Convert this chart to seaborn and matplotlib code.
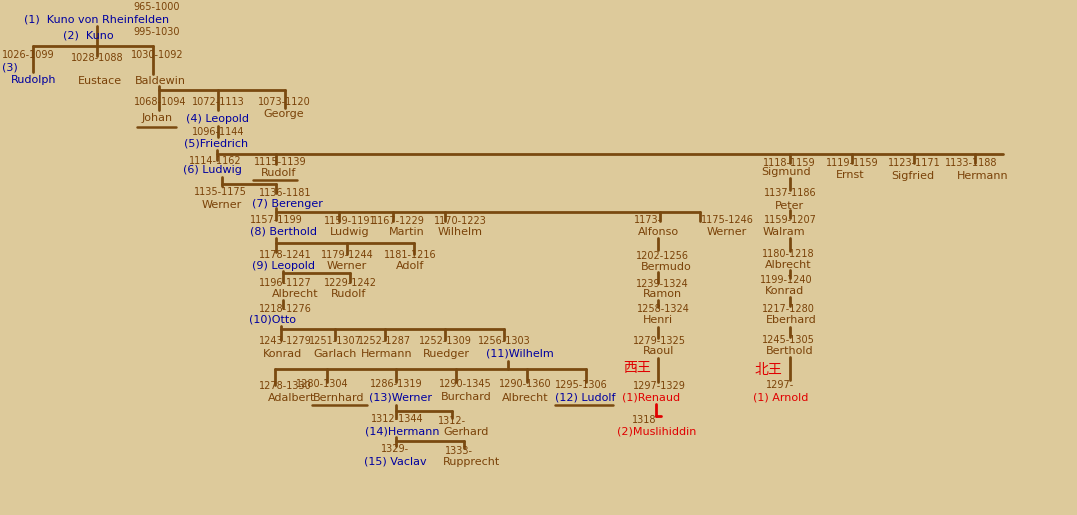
import matplotlib
matplotlib.use("Agg")
import matplotlib.pyplot as plt
import pandas as pd
import seaborn as sns

# people: name label, life years, colour role
names = ["(1)  Kuno von Rheinfelden", "(2)  Kuno", "Rudolph", "Eustace", "Baldewin",
         "Johan", "(4) Leopold", "George", "(5)Friedrich",
         "(6) Ludwig", "Rudolf", "Sigmund", "Ernst", "Sigfried", "Hermann",
         "Werner", "(7) Berenger",
         "(8) Berthold", "Ludwig", "Martin", "Wilhelm", "Alfonso", "Werner",
         "(9) Leopold", "Werner", "Adolf", "Albrecht", "Rudolf", "(10)Otto",
         "Konrad", "Garlach", "Hermann", "Ruedger", "(11)Wilhelm",
         "Adalbert", "Bernhard", "(13)Werner", "Burchard", "Albrecht", "(12) Ludolf",
         "(14)Hermann", "Gerhard", "(15) Vaclav", "Rupprecht",
         "Bermudo", "Ramon", "Henri", "Raoul", "(1)Renaud", "(2)Muslihiddin",
         "Peter", "Walram", "Albrecht", "Konrad", "Eberhard", "Berthold", "(1) Arnold"]
years = ["965-1000", "995-1030", "1026-1099", "1028-1088", "1030-1092",
         "1068-1094", "1072-1113", "1073-1120", "1096-1144",
         "1114-1162", "1115-1139", "1118-1159", "1119-1159", "1123-1171", "1133-1188",
         "1135-1175", "1136-1181",
         "1157-1199", "1159-1191", "1167-1229", "1170-1223", "1173-", "1175-1246",
         "1178-1241", "1179-1244", "1181-1216", "1196-1127", "1229-1242", "1218-1276",
         "1243-1279", "1251-1307", "1252-1287", "1252-1309", "1256-1303",
         "1278-1330", "1280-1304", "1286-1319", "1290-1345", "1290-1360", "1295-1306",
         "1312-1344", "1312-", "1329-", "1333-",
         "1202-1256", "1239-1324", "1258-1324", "1279-1325", "1297-1329", "1318",
         "1137-1186", "1159-1207", "1180-1218", "1199-1240", "1217-1280", "1245-1305", "1297-"]
roles = ["ruler", "ruler", "ruler", "kin", "kin",
         "kin", "ruler", "kin", "ruler",
         "ruler", "kin", "kin", "kin", "kin", "kin",
         "kin", "ruler",
         "ruler", "kin", "kin", "kin", "kin", "kin",
         "ruler", "kin", "kin", "kin", "kin", "ruler",
         "kin", "kin", "kin", "kin", "ruler",
         "kin", "kin", "ruler", "kin", "kin", "ruler",
         "ruler", "kin", "ruler", "kin",
         "kin", "kin", "kin", "kin", "west", "west",
         "kin", "kin", "kin", "kin", "kin", "kin", "west"]
branch_labels = ["西王", "北王"]

# layout in pixel space: (year x, year y, name x, name y)
layout = [(157, 7, 97, 19), (157, 32, 88, 35), (28, 55, 34, 80), (97, 58, 100, 81), (157, 55, 160, 81),
          (160, 102, 157, 118), (218, 102, 218, 119), (284, 102, 284, 114), (218, 132, 216, 144),
          (215, 161, 212, 170), (280, 162, 279, 173), (789, 163, 786, 172), (852, 163, 850, 175),
          (914, 163, 913, 176), (971, 163, 983, 176),
          (220, 192, 222, 205), (285, 193, 287, 204),
          (276, 220, 284, 231), (350, 221, 350, 232), (398, 221, 407, 232), (460, 221, 460, 232),
          (648, 220, 658, 232), (727, 220, 727, 232),
          (285, 255, 284, 266), (347, 255, 347, 266), (410, 255, 410, 266), (285, 283, 295, 294),
          (350, 283, 349, 294), (285, 309, 273, 320),
          (285, 341, 283, 354), (335, 341, 335, 354), (385, 341, 387, 354), (445, 341, 446, 354),
          (504, 341, 520, 354),
          (285, 386, 292, 398), (322, 384, 339, 398), (396, 384, 400, 398), (465, 384, 466, 397),
          (525, 384, 525, 398), (581, 385, 585, 398),
          (397, 419, 402, 431), (452, 421, 466, 432), (395, 449, 395, 462), (459, 451, 472, 462),
          (662, 256, 666, 267), (662, 284, 662, 294), (663, 309, 658, 320), (659, 341, 659, 351),
          (659, 386, 651, 398), (644, 420, 657, 431),
          (790, 193, 789, 206), (790, 220, 784, 232), (788, 254, 788, 265), (786, 280, 784, 291),
          (788, 309, 791, 320), (788, 340, 790, 351), (780, 385, 781, 397)]
underline_segs = [(137, 176, 127), (253, 297, 180), (312, 367, 405), (555, 613, 405)]
branch_pos = [(637, 368), (768, 370)]
extra_text = [("(3)", 10, 67)]

# tree connectors (x0, y0, x1, y1)
brown_segs = [
    (97, 26, 97, 46), (33, 46, 153, 46), (33, 46, 33, 72), (97, 46, 97, 56), (153, 46, 153, 74),
    (159, 86, 159, 110), (159, 90, 285, 90), (218, 90, 218, 110), (285, 90, 285, 108),
    (218, 126, 218, 137), (217, 150, 217, 160), (217, 154, 1003, 154),
    (276, 154, 276, 164), (790, 154, 790, 163), (852, 154, 852, 163), (914, 154, 914, 163),
    (975, 154, 975, 163),
    (222, 177, 222, 186), (222, 184, 276, 184), (276, 184, 276, 193),
    (790, 178, 790, 190), (790, 210, 790, 218),
    (276, 212, 700, 212), (276, 208, 276, 220), (339, 212, 339, 221), (393, 212, 393, 221),
    (445, 212, 445, 221), (660, 212, 660, 221), (700, 212, 700, 221),
    (276, 238, 276, 252), (276, 243, 414, 243), (347, 243, 347, 254), (414, 243, 414, 254),
    (283, 271, 283, 282), (283, 273, 350, 273), (350, 273, 350, 282), (283, 300, 283, 308),
    (281, 326, 281, 340), (281, 329, 504, 329), (335, 329, 335, 340), (385, 329, 385, 340),
    (445, 329, 445, 340), (504, 329, 504, 340),
    (508, 361, 508, 369), (275, 369, 586, 369), (275, 369, 275, 385), (327, 369, 327, 382),
    (396, 369, 396, 382), (456, 369, 456, 382), (527, 369, 527, 382), (586, 369, 586, 382),
    (396, 405, 396, 418), (396, 411, 452, 411), (452, 411, 452, 418),
    (396, 437, 396, 446), (396, 441, 464, 441), (464, 441, 464, 448),
    (658, 238, 658, 250), (658, 272, 658, 283), (658, 300, 658, 307), (658, 327, 658, 338),
    (658, 358, 658, 382),
    (790, 238, 790, 251), (790, 270, 790, 278), (790, 297, 790, 306), (790, 327, 790, 337),
    (790, 357, 790, 380),
]
red_segs = [(656, 404, 656, 416), (656, 416, 661, 416)]

BG = "#ddca9b"
COLORS = {"ruler": "#0000a0", "kin": "#7a4208", "west": "#e00000"}
LINE = "#7a4a10"


def seg_frame(segs):
    rows = []
    for i, (x0, y0, x1, y1) in enumerate(segs):
        rows.append({"x": x0, "y": y0, "seg": i})
        rows.append({"x": x1, "y": y1, "seg": i})
    return pd.DataFrame(rows)


sns.set_theme(style="white", rc={"font.family": "DejaVu Sans"})
fig = plt.figure(figsize=(10.77, 5.15), dpi=100, facecolor=BG)
ax = fig.add_axes([0, 0, 1, 1])
ax.set_facecolor(BG)

sns.lineplot(data=seg_frame(brown_segs), x="x", y="y", units="seg", estimator=None,
             sort=False, color=LINE, linewidth=2.0, ax=ax)
sns.lineplot(data=seg_frame(red_segs), x="x", y="y", units="seg", estimator=None,
             sort=False, color="#e00000", linewidth=2.0, ax=ax)
ul = [(x0, y, x1, y) for x0, x1, y in underline_segs]
sns.lineplot(data=seg_frame(ul), x="x", y="y", units="seg", estimator=None,
             sort=False, color=LINE, linewidth=1.8, ax=ax)

for name, yr, role, (xy, yy, xn, yn) in zip(names, years, roles, layout):
    ax.text(xy, yy, yr, color=COLORS["kin"], fontsize=7.0, ha="center", va="center")
    ax.text(xn, yn, name, color=COLORS[role], fontsize=8, ha="center", va="center")

for t, x, y in extra_text:
    ax.text(x, y, t, color=COLORS["ruler"], fontsize=8, ha="center", va="center")
for t, (x, y) in zip(branch_labels, branch_pos):
    ax.text(x, y, t, color="#e00000", fontsize=10, ha="center", va="center",
            fontfamily="Noto Sans CJK JP")

ax.set_xlim(0, 1077)
ax.set_ylim(515, 0)
ax.axis("off")
fig.savefig("out.png", dpi=100, facecolor=BG)
